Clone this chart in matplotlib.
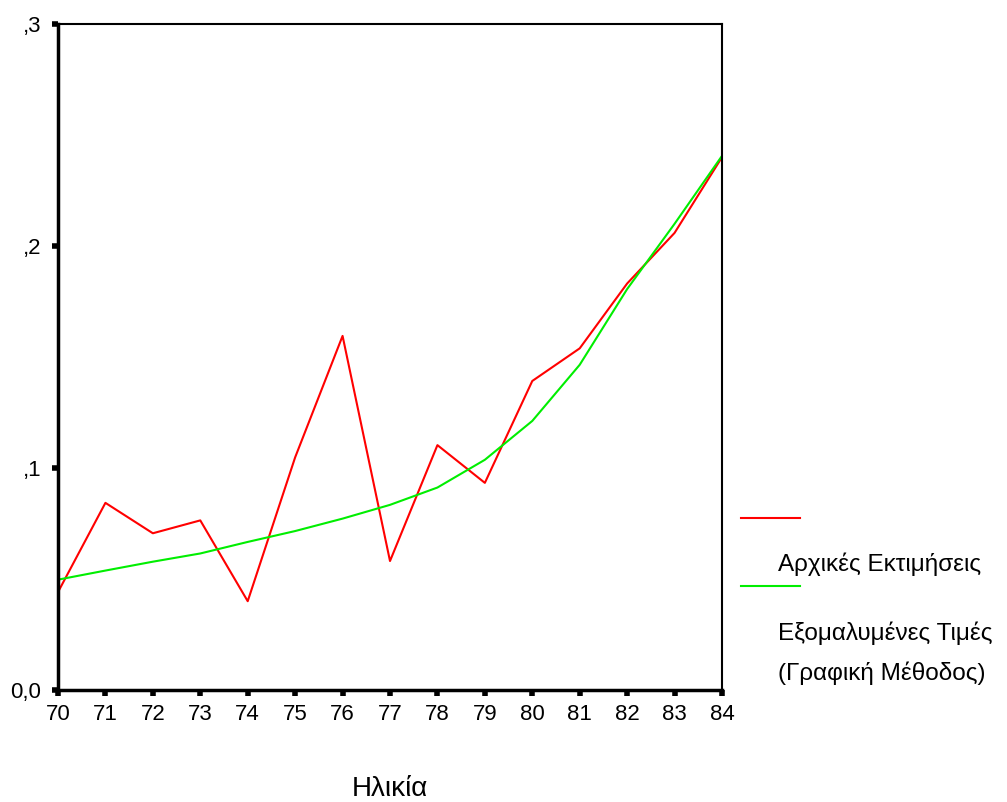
import matplotlib
matplotlib.use("Agg")
import matplotlib.pyplot as plt
from matplotlib.lines import Line2D

plt.rcParams['font.family'] = ['Liberation Sans', 'DejaVu Sans']

# δεδομένα
ages = list(range(70, 85))
arxikes = [0.0441, 0.0843, 0.0706, 0.0764, 0.0400, 0.1048, 0.1595, 0.0581,
           0.1103, 0.0933, 0.1392, 0.1539, 0.1831, 0.2059, 0.2400]
exomal = [0.0497, 0.0538, 0.0578, 0.0615, 0.0667, 0.0716, 0.0772, 0.0834,
          0.0912, 0.1037, 0.1212, 0.1465, 0.1806, 0.2100, 0.2406]
yticks = [0.0, 0.1, 0.2, 0.3]
ylabels = ['0,0', ',1', ',2', ',3']
legend_labels = ['Αρχικές Εκτιμήσεις', 'Εξομαλυμένες Τιμές\n(Γραφική Μέθοδος)']

fig = plt.figure(figsize=(10.07, 8.02), dpi=100)
ax = fig.add_axes([58 / 1007, 1 - 690 / 802, (722 - 58) / 1007, (690 - 24) / 802])

ax.plot(ages, arxikes, color='#ff0000', lw=1.5)
ax.plot(ages, exomal, color='#00ee00', lw=1.5)

ax.set_xlim(70, 84)
ax.set_ylim(0, 0.3)
ax.set_xticks(ages)
ax.set_xticklabels([str(a) for a in ages], fontsize=16)
ax.set_yticks(yticks)
ax.set_yticklabels(ylabels, fontsize=16)
ax.tick_params(axis='both', length=4, width=4, color='black', direction='out')
ax.tick_params(axis='x', pad=6)
ax.tick_params(axis='y', pad=8)

for side in ['left', 'bottom']:
    ax.spines[side].set_linewidth(2.5)
for side in ['top', 'right']:
    ax.spines[side].set_linewidth(1.5)

ax.set_xlabel('Ηλικία', fontsize=20, labelpad=37)

# υπόμνημα
fig.add_artist(Line2D([741 / 1007, 800 / 1007], [1 - 518 / 802] * 2,
                      color='#ff0000', lw=1.5, transform=fig.transFigure))
fig.add_artist(Line2D([741 / 1007, 800 / 1007], [1 - 586 / 802] * 2,
                      color='#00ee00', lw=1.5, transform=fig.transFigure))
fig.text(778 / 1007, 1 - 564 / 802, legend_labels[0], fontsize=17.5, va='center')
fig.text(778 / 1007, 1 - 653 / 802, legend_labels[1], fontsize=17.5, va='center',
         linespacing=1.9)

fig.savefig('out.png', dpi=100)
